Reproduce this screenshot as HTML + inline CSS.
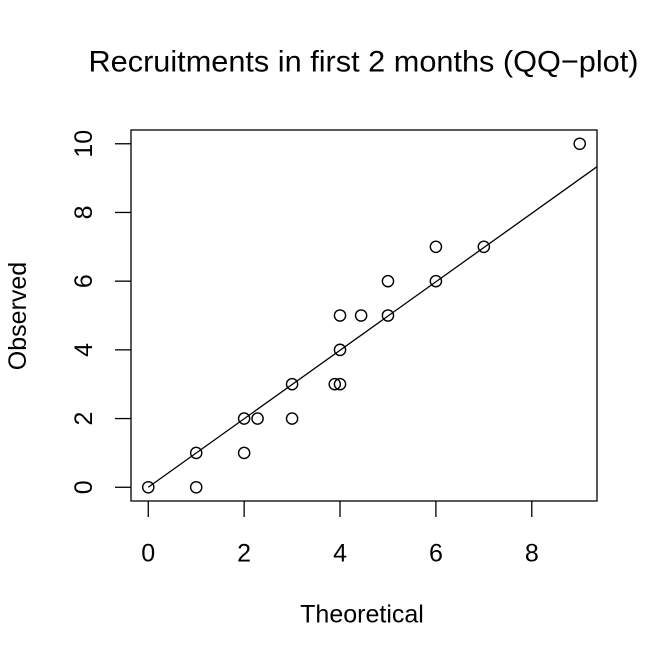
<!DOCTYPE html>
<html>
<head>
<meta charset="utf-8">
<style>
  html, body { margin: 0; padding: 0; background: #ffffff; }
  svg { display: block; }
  text { font-family: "Liberation Sans", Arial, Helvetica, sans-serif; fill: #000; }
</style>
</head>
<body>
<svg width="664" height="664" viewBox="0 0 664 664" xmlns="http://www.w3.org/2000/svg">
  <rect x="0" y="0" width="664" height="664" fill="#ffffff"/>

  <!-- Title -->
  <text x="88.5" y="71.5" font-size="30" textLength="550" lengthAdjust="spacingAndGlyphs">Recruitments in first 2 months (QQ−plot)</text>

  <!-- Plot box -->
  <rect x="131" y="130" width="466" height="371" fill="none" stroke="#000" stroke-width="1.3"/>

  <!-- X axis ticks -->
  <g stroke="#000" stroke-width="1.3">
    <line x1="148.26" y1="501" x2="148.26" y2="517"/>
    <line x1="244.14" y1="501" x2="244.14" y2="517"/>
    <line x1="340.02" y1="501" x2="340.02" y2="517"/>
    <line x1="435.90" y1="501" x2="435.90" y2="517"/>
    <line x1="531.78" y1="501" x2="531.78" y2="517"/>
  </g>
  <g font-size="25" text-anchor="middle">
    <text x="148.26" y="561.5">0</text>
    <text x="244.14" y="561.5">2</text>
    <text x="340.02" y="561.5">4</text>
    <text x="435.90" y="561.5">6</text>
    <text x="531.78" y="561.5">8</text>
  </g>

  <!-- Y axis ticks -->
  <g stroke="#000" stroke-width="1.3">
    <line x1="115" y1="487.26" x2="131" y2="487.26"/>
    <line x1="115" y1="418.56" x2="131" y2="418.56"/>
    <line x1="115" y1="349.86" x2="131" y2="349.86"/>
    <line x1="115" y1="281.16" x2="131" y2="281.16"/>
    <line x1="115" y1="212.46" x2="131" y2="212.46"/>
    <line x1="115" y1="143.76" x2="131" y2="143.76"/>
  </g>
  <g font-size="25" text-anchor="middle">
    <text transform="translate(92,487.26) rotate(-90)">0</text>
    <text transform="translate(92,418.56) rotate(-90)">2</text>
    <text transform="translate(92,349.86) rotate(-90)">4</text>
    <text transform="translate(92,281.16) rotate(-90)">6</text>
    <text transform="translate(92,212.46) rotate(-90)">8</text>
    <text transform="translate(92,143.76) rotate(-90)">10</text>
  </g>

  <!-- Axis labels -->
  <text x="362" y="622.3" font-size="25" text-anchor="middle">Theoretical</text>
  <text transform="translate(26,316) rotate(-90)" font-size="25" text-anchor="middle">Observed</text>

  <!-- Reference line -->
  <line x1="148.26" y1="487.26" x2="597" y2="166.7" stroke="#000" stroke-width="1.3"/>

  <!-- Points -->
  <g fill="none" stroke="#000" stroke-width="1.4">
    <circle cx="148.26" cy="487.26" r="5.6"/>
    <circle cx="196.20" cy="487.26" r="5.6"/>
    <circle cx="196.20" cy="452.91" r="5.6"/>
    <circle cx="244.14" cy="452.91" r="5.6"/>
    <circle cx="244.14" cy="418.56" r="5.6"/>
    <circle cx="257.56" cy="418.56" r="5.6"/>
    <circle cx="292.08" cy="418.56" r="5.6"/>
    <circle cx="292.08" cy="384.21" r="5.6"/>
    <circle cx="334.75" cy="384.21" r="5.6"/>
    <circle cx="340.02" cy="384.21" r="5.6"/>
    <circle cx="340.02" cy="349.86" r="5.6"/>
    <circle cx="340.02" cy="315.51" r="5.6"/>
    <circle cx="361.11" cy="315.51" r="5.6"/>
    <circle cx="387.96" cy="315.51" r="5.6"/>
    <circle cx="387.96" cy="281.16" r="5.6"/>
    <circle cx="435.90" cy="281.16" r="5.6"/>
    <circle cx="435.90" cy="246.81" r="5.6"/>
    <circle cx="483.84" cy="246.81" r="5.6"/>
    <circle cx="579.72" cy="143.76" r="5.6"/>
  </g>
</svg>
</body>
</html>
